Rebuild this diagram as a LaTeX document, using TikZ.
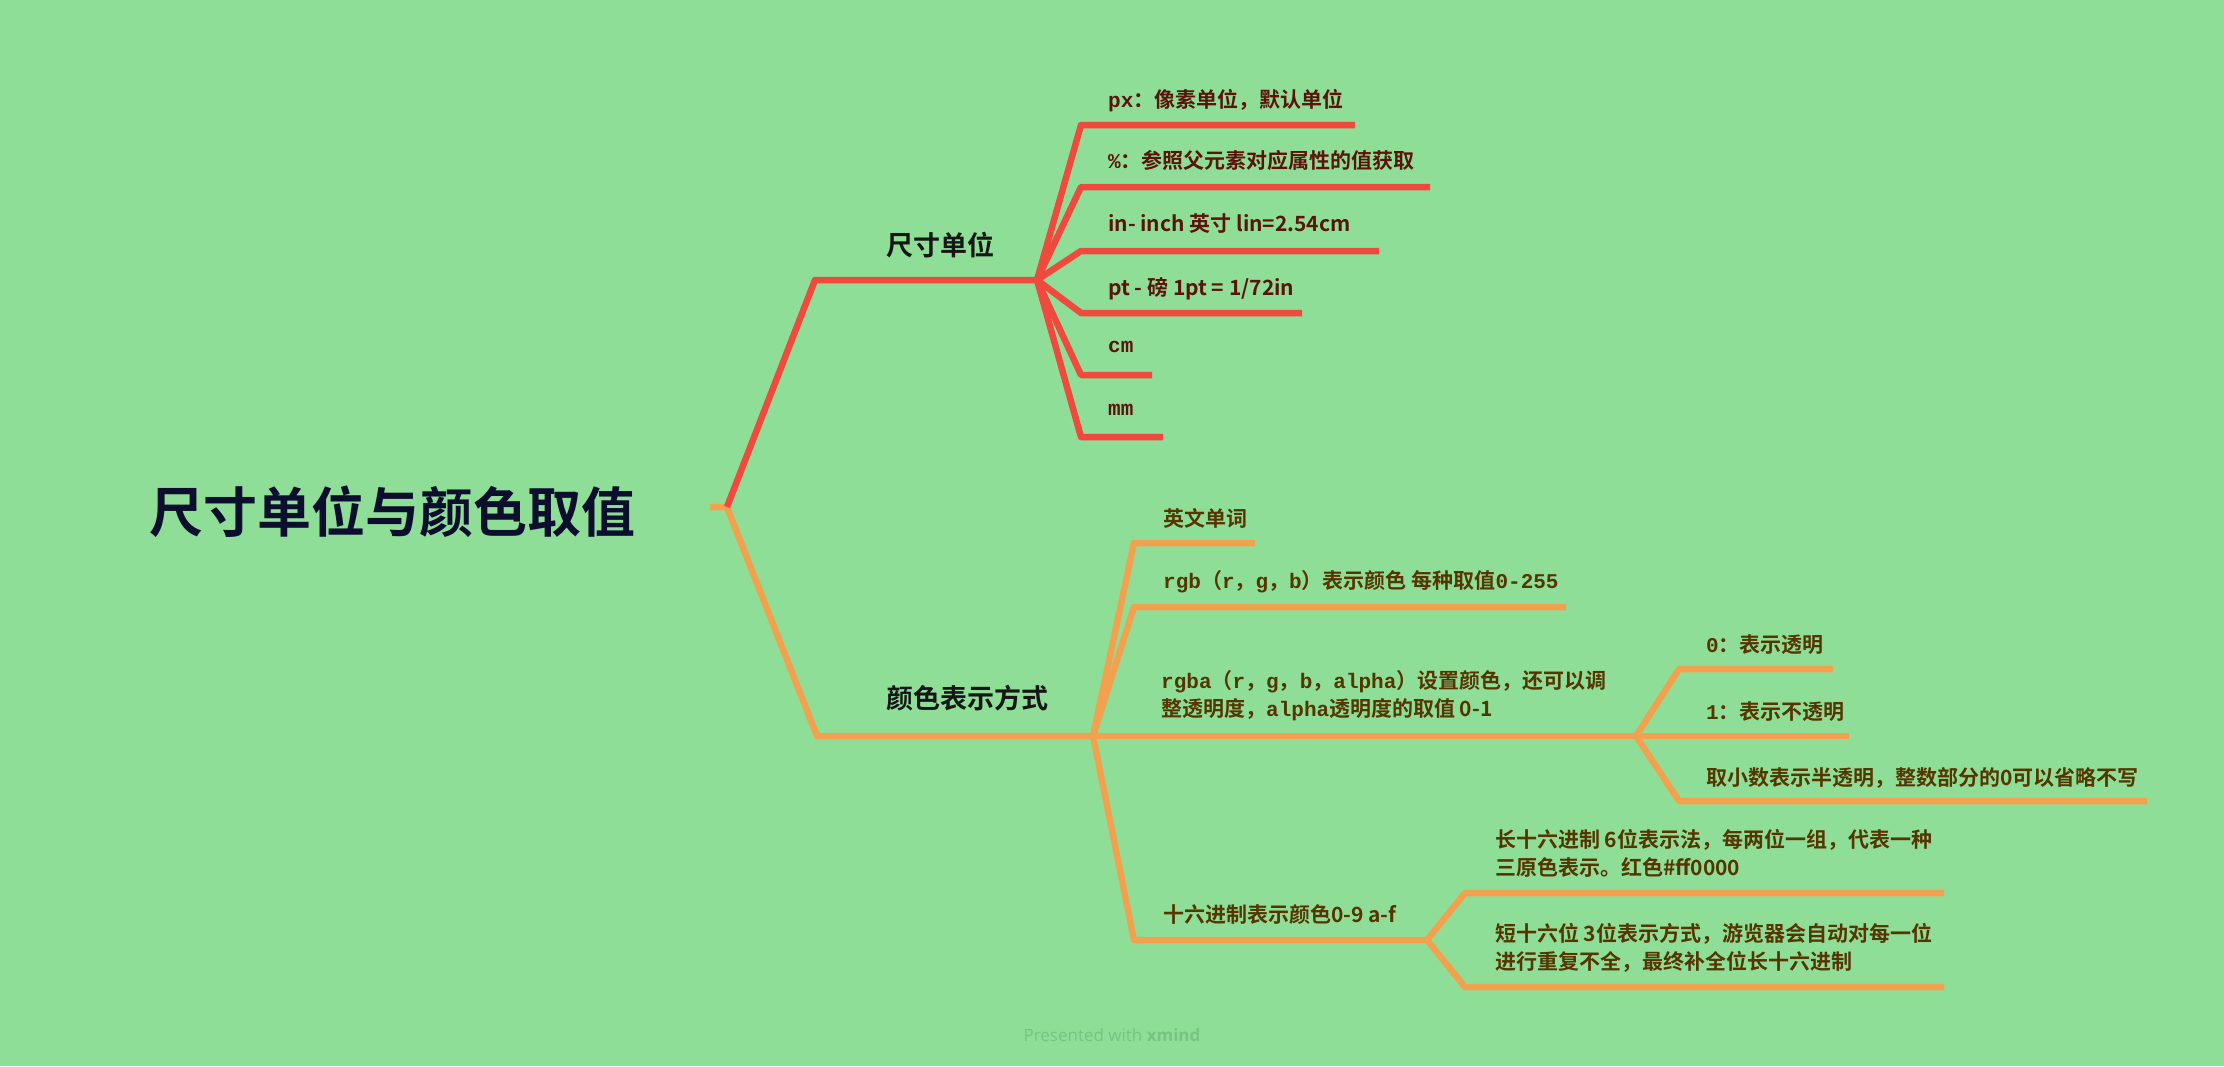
\documentclass[tikz,border=0pt]{standalone}
\usepackage{fontspec}
\setmainfont{Noto Sans CJK SC}[BoldFont={Noto Sans CJK SC Bold}]
\newfontfamily\ltnfont{Liberation Mono}
\newfontfamily\creditfont{Open Sans}
\usepackage{tikz}
\usepackage{xcolor}
\definecolor{mbg}{HTML}{8FDE98}
\definecolor{mred}{HTML}{EF4A3D}
\definecolor{morange}{HTML}{F2A24F}
\definecolor{mroot}{HTML}{0D0D2E}
\definecolor{mmain}{HTML}{161616}
\definecolor{mredtxt}{HTML}{5A140A}
\definecolor{mortxt}{HTML}{553500}
\definecolor{mcredit}{HTML}{78C283}
\newcommand\ltn[1]{{\ltnfont\bfseries #1}}

\begin{document}
\begin{tikzpicture}[x=1pt, y=-1pt,
	redln/.style={draw=mred, line width=6.5pt, line join=round},
	orln/.style={draw=morange, line width=6.5pt, line join=round},
	maintxt/.style={anchor=west, inner sep=0pt, font=\fontsize{27}{32}\selectfont\bfseries, text=mmain},
	redtxt/.style={anchor=west, inner sep=0pt, font=\fontsize{21}{28}\selectfont\bfseries, text=mredtxt},
	ortxt/.style={anchor=west, inner sep=0pt, align=left, font=\fontsize{21}{28}\selectfont\bfseries, text=mortxt}]
	% background
	\fill[mbg] (0,0) rectangle (2224,1066);
	\useasboundingbox (0,0) rectangle (2224,1066);

	% root
	\node[anchor=west, inner sep=0pt, font=\fontsize{54}{60}\selectfont\bfseries, text=mroot] (root) at (149,512) {尺寸单位与颜色取值};
	\coordinate (stub) at (710,507);
	\coordinate (rootR) at (727,507);
	\coordinate (sizeC) at (815,280);
	\coordinate (sizeH) at (1037,280);
	\coordinate (colC) at (817,736);
	\coordinate (colH) at (1093,736);
	\draw[orln] (stub) -- (rootR) -- (colC) -- (colH);
	\draw[redln] (rootR) -- (sizeC) -- (sizeH);
	\node[maintxt] (size) at (886,245) {尺寸单位};
	\node[maintxt] (color) at (886,698) {颜色表示方式};

	% size units
	\coordinate (px-a) at (1081,125);  \coordinate (px-b) at (1355,125);
	\coordinate (pc-a) at (1081,187);  \coordinate (pc-b) at (1430,187);
	\coordinate (in-a) at (1081,251);  \coordinate (in-b) at (1379,251);
	\coordinate (pt-a) at (1081,313);  \coordinate (pt-b) at (1302,313);
	\coordinate (cm-a) at (1081,375);  \coordinate (cm-b) at (1152,375);
	\coordinate (mm-a) at (1081,437);  \coordinate (mm-b) at (1163,437);
	\draw[redln] (sizeH) -- (px-a) -- (px-b);
	\draw[redln] (sizeH) -- (pc-a) -- (pc-b);
	\draw[redln] (sizeH) -- (in-a) -- (in-b);
	\draw[redln] (sizeH) -- (pt-a) -- (pt-b);
	\draw[redln] (sizeH) -- (cm-a) -- (cm-b);
	\draw[redln] (sizeH) -- (mm-a) -- (mm-b);
	\node[redtxt] (px) at (1108,101) {\ltn{px}：像素单位，默认单位};
	\node[redtxt] (pc) at (1108,160) {\ltn{\%}：参照父元素对应属性的值获取};
	\node[redtxt] (in) at (1108,224) {in- inch 英寸 lin=2.54cm};
	\node[redtxt] (pt) at (1108,289) {pt - 磅 1pt = 1/72in};
	\node[redtxt] (cm) at (1108,347) {\ltn{cm}};
	\node[redtxt] (mm) at (1108,410) {\ltn{mm}};

	% colours
	\coordinate (en-a) at (1134,543);   \coordinate (en-b) at (1255,543);
	\coordinate (rgb-a) at (1134,607);  \coordinate (rgb-b) at (1566,607);
	\coordinate (rgbaH) at (1636,736);
	\coordinate (hex-a) at (1134,940);  \coordinate (hexH) at (1427,940);
	\draw[orln] (colH) -- (en-a) -- (en-b);
	\draw[orln] (colH) -- (rgb-a) -- (rgb-b);
	\draw[orln] (colH) -- (rgbaH);
	\draw[orln] (colH) -- (hex-a) -- (hexH);
	\node[ortxt] (en) at (1163,518) {英文单词};
	\node[ortxt] (rgb) at (1163,582) {\ltn{rgb}（\ltn{r}，\ltn{g}，\ltn{b}）表示颜色 每种取值\ltn{0-255}};
	\node[ortxt] (rgba) at (1161,696) {\ltn{rgba}（\ltn{r}，\ltn{g}，\ltn{b}，\ltn{alpha}）设置颜色，还可以调\\整透明度，\ltn{alpha}透明度的取值 0-1};
	\node[ortxt] (hex) at (1163,914) {十六进制表示颜色0-9 a-f};

	% alpha values
	\coordinate (zero-a) at (1679,669); \coordinate (zero-b) at (1833,669);
	\coordinate (one-b) at (1849,736);
	\coordinate (frac-a) at (1679,801); \coordinate (frac-b) at (2147,801);
	\draw[orln] (rgbaH) -- (zero-a) -- (zero-b);
	\draw[orln] (rgbaH) -- (one-b);
	\draw[orln] (rgbaH) -- (frac-a) -- (frac-b);
	\node[ortxt] (zero) at (1706,645) {\ltn{0}：表示透明};
	\node[ortxt] (one) at (1706,712) {\ltn{1}：表示不透明};
	\node[ortxt] (frac) at (1706,778) {取小数表示半透明，整数部分的0可以省略不写};

	% hex forms
	\coordinate (long-a) at (1465,893);  \coordinate (long-b) at (1944,893);
	\coordinate (short-a) at (1465,987); \coordinate (short-b) at (1944,987);
	\draw[orln] (hexH) -- (long-a) -- (long-b);
	\draw[orln] (hexH) -- (short-a) -- (short-b);
	\node[ortxt] (long) at (1495,853) {长十六进制 6位表示法，每两位一组，代表一种\\三原色表示。红色\#ff0000};
	\node[ortxt] (short) at (1495,948) {短十六位 3位表示方式，游览器会自动对每一位\\进行重复不全，最终补全位长十六进制};

	% credit
	\node[inner sep=0pt, font=\creditfont\fontsize{17}{20}\selectfont, text=mcredit] (credit) at (1112,1035) {Presented with \textbf{xmind}};
\end{tikzpicture}
\end{document}
